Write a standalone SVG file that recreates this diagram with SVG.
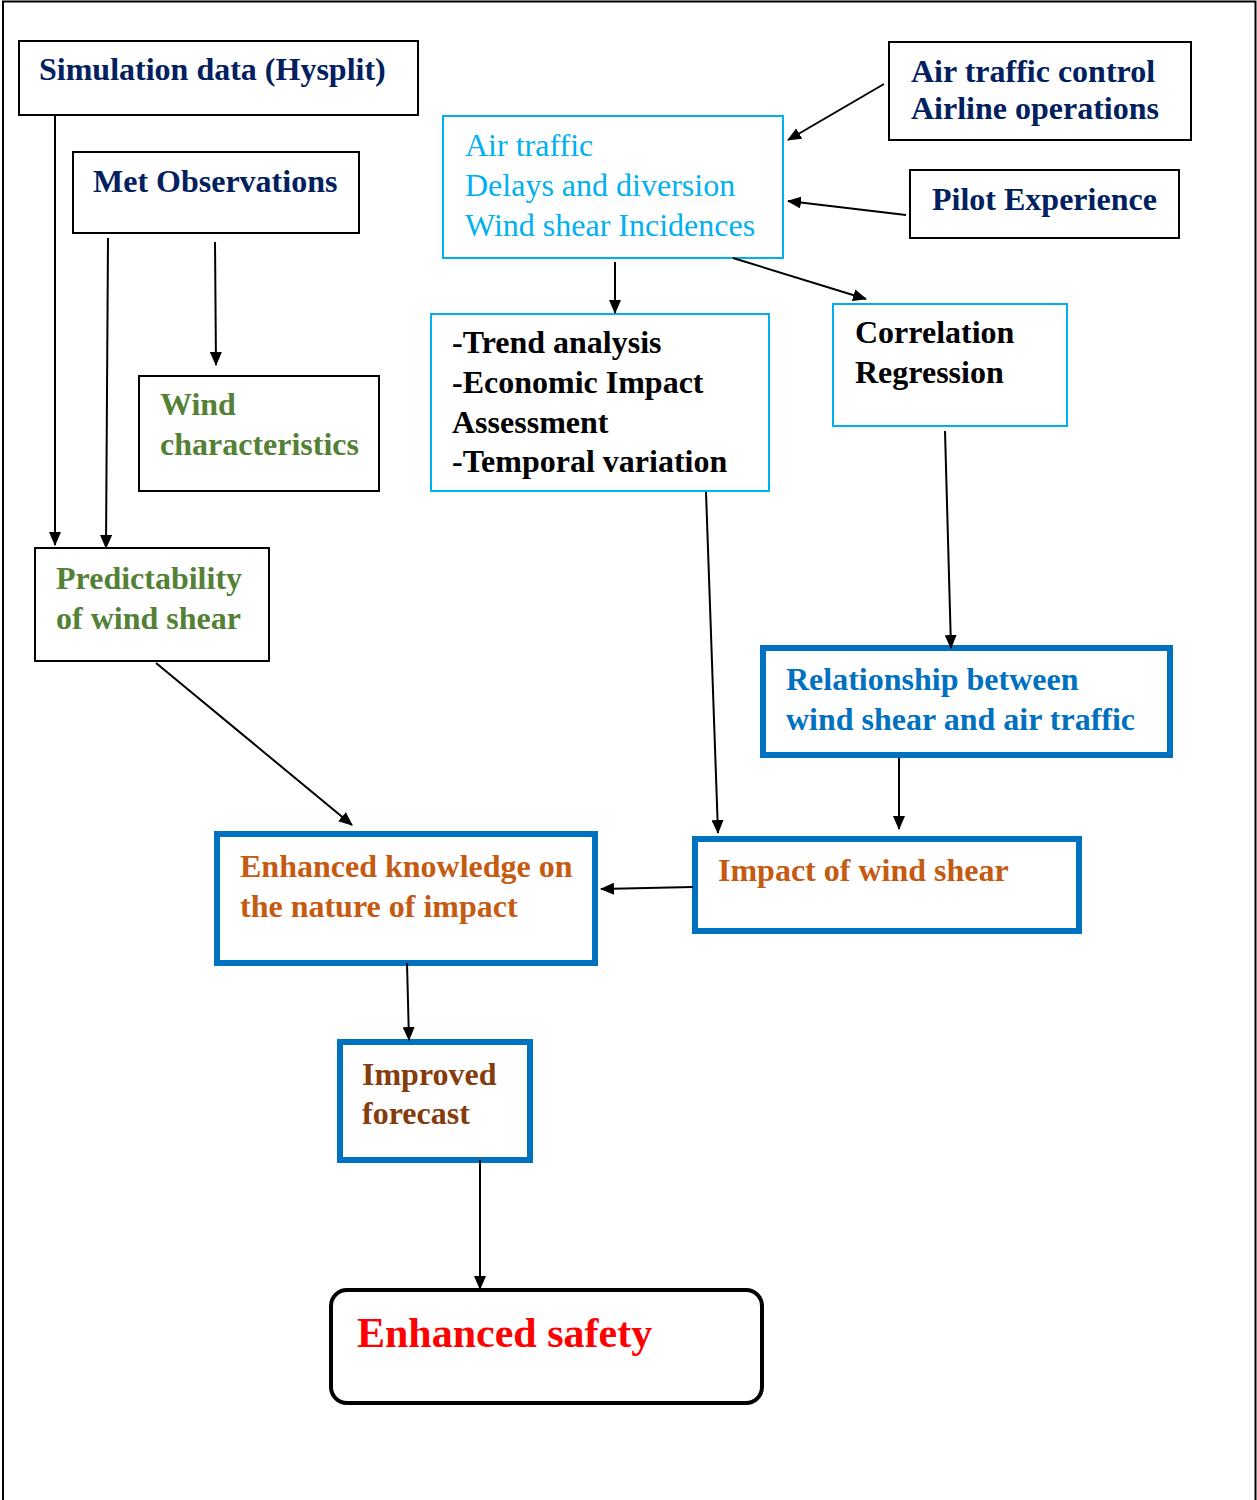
<svg xmlns="http://www.w3.org/2000/svg" width="1257" height="1500" viewBox="0 0 1257 1500">
<style>
text{font-family:"Liberation Serif","Times New Roman",serif;font-size:32px;font-weight:bold}
.box{fill:#fff;stroke:#000;stroke-width:2}
.cy{fill:#fff;stroke:#00B0F0;stroke-width:2}
.bl{fill:#fff;stroke:#0070C0;stroke-width:6}
.navy{fill:#002060}
.green{fill:#538135}
.cyt{fill:#00B0F0;font-weight:normal}
.blt{fill:#0070C0}
.or{fill:#C55A11}
.br{fill:#843C0C}
.con line{stroke:#000;stroke-width:2;marker-end:url(#ah)}
</style>
<defs>
<marker id="ah" markerUnits="userSpaceOnUse" markerWidth="14" markerHeight="12" refX="13" refY="6" orient="auto" viewBox="0 0 14 12">
<path d="M0,0 L14,6 L0,12 z" fill="#000"/>
</marker>
</defs>
<rect width="1257" height="1500" fill="#fff"/>
<path d="M3,1500 V1.5 H1255.5 V1500" fill="none" stroke="#000" stroke-width="2"/>
<g id="sim"><rect class="box" x="19" y="41" width="399" height="74"/><text class="navy" x="39" y="80">Simulation data (Hysplit)</text></g>
<g id="met"><rect class="box" x="73" y="152" width="286" height="81"/><text class="navy" x="93" y="192">Met Observations</text></g>
<g id="wind"><rect class="box" x="139" y="376" width="240" height="115"/><text class="green" x="160" y="415">Wind</text><text class="green" x="160" y="455">characteristics</text></g>
<g id="pred"><rect class="box" x="35" y="548" width="234" height="113"/><text class="green" x="56" y="589">Predictability</text><text class="green" x="56" y="629">of wind shear</text></g>
<g id="airtraffic"><rect class="cy" x="443" y="116" width="340" height="142"/><text class="cyt" x="465" y="156">Air traffic</text><text class="cyt" x="465" y="196">Delays and diversion</text><text class="cyt" x="465" y="236">Wind shear Incidences</text></g>
<g id="atc"><rect class="box" x="889" y="42" width="302" height="98"/><text class="navy" x="911" y="82">Air traffic control</text><text class="navy" x="911" y="119">Airline operations</text></g>
<g id="pilot"><rect class="box" x="910" y="170" width="269" height="68"/><text class="navy" x="932" y="210">Pilot Experience</text></g>
<g id="trend"><rect class="cy" x="431" y="314" width="338" height="177"/><text x="452" y="353">-Trend analysis</text><text x="452" y="393">-Economic Impact</text><text x="452" y="433">Assessment</text><text x="452" y="472">-Temporal variation</text></g>
<g id="corr"><rect class="cy" x="833" y="304" width="234" height="122"/><text x="855" y="343">Correlation</text><text x="855" y="383">Regression</text></g>
<g id="rel"><rect class="bl" x="763" y="648" width="407" height="107"/><text class="blt" x="786" y="690">Relationship between</text><text class="blt" x="786" y="730">wind shear and air traffic</text></g>
<g id="impact"><rect class="bl" x="695" y="839" width="384" height="92"/><text class="or" x="718" y="881">Impact of wind shear</text></g>
<g id="knowledge"><rect class="bl" x="217" y="834" width="378" height="129"/><text class="or" x="240" y="877">Enhanced knowledge on</text><text class="or" x="240" y="917">the nature of impact</text></g>
<g id="forecast"><rect class="bl" x="340" y="1042" width="190" height="118"/><text class="br" x="362" y="1085">Improved</text><text class="br" x="362" y="1124">forecast</text></g>
<g id="safety"><rect x="331" y="1290" width="431" height="113" rx="16" fill="#fff" stroke="#000" stroke-width="4"/><text x="357" y="1347" fill="#FF0000" style="font-size:42px">Enhanced safety</text></g>
<g id="connectors" class="con">
<line x1="55" y1="116" x2="55" y2="545"/>
<line x1="108" y1="238" x2="106" y2="548"/>
<line x1="215" y1="242" x2="216" y2="365"/>
<line x1="884" y1="84" x2="788" y2="140"/>
<line x1="906" y1="215" x2="788" y2="201"/>
<line x1="615" y1="262" x2="615" y2="313"/>
<line x1="733" y1="258" x2="866" y2="299"/>
<line x1="945" y1="431" x2="951" y2="648"/>
<line x1="706" y1="492" x2="718" y2="833"/>
<line x1="156" y1="663" x2="352" y2="825"/>
<line x1="899" y1="758" x2="899" y2="829"/>
<line x1="693" y1="887" x2="601" y2="889"/>
<line x1="407" y1="963" x2="409" y2="1040"/>
<line x1="480" y1="1160" x2="480" y2="1289"/>
</g>
</svg>
